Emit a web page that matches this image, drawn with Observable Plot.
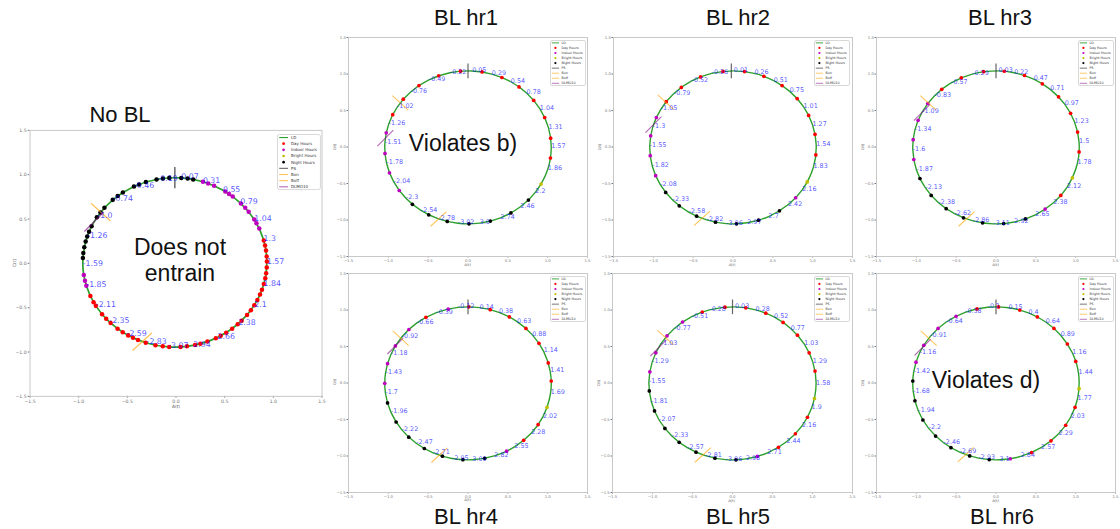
<!DOCTYPE html>
<html><head><meta charset="utf-8">
<script src="https://cdn.jsdelivr.net/npm/d3@7"></script>
<script src="https://cdn.jsdelivr.net/npm/@observablehq/plot@0.6"></script>
<style>
body{margin:0;background:#fff;}
#fig{position:relative;width:1120px;height:529px;overflow:hidden;background:#fff;font-family:"Liberation Sans",Arial,sans-serif;}
.ttl{position:absolute;font-size:22px;color:#111;transform:translate(-50%,-50%);white-space:nowrap;}
.ann{position:absolute;font-size:23px;color:#111;transform:translate(-50%,-50%);white-space:nowrap;text-align:center;line-height:26px;}
.axl{position:absolute;font-family:"DejaVu Sans",sans-serif;color:#555;transform:translate(-50%,-50%);white-space:nowrap;}
</style></head>
<body><div id="fig"></div>
<script>
// ---------- data ----------
const panelNames = ["No BL","BL hr1","BL hr2","BL hr3","BL hr4","BL hr5","BL hr6"];
const tickVals = [-1.5,-1.0,-0.5,0.0,0.5,1.0,1.5];

// phase markers per panel (radians, atan2 of A,C)
const psPhase   = [0.0, 0.0, -0.02, 0.0, 0.0, 0.0, 0.0];
const bonPhase  = [-0.935, -0.95, -0.94, -0.95, -0.94, -0.93, -0.94];
const boffPhase = [-2.78, -2.78, -2.76, -2.78, -2.79, -2.78, -2.77];
const dlmoPhase = [-1.07, -1.45, -1.27, -1.10, -1.06, -1.09, -1.08];

// No BL: hourly phase labels and light-schedule dots (multiple days overlaid)
const noBLLabels = [0.07,0.31,0.55,0.79,1.04,1.3,1.57,1.84,2.1,2.38,2.66,2.94,-3.07,-2.83,-2.59,-2.35,-2.11,-1.85,-1.59,-1.26,-1.0,-0.74,-0.46,-0.19];
const noBLNight  = [0.2,0.14,0.07,-0.06,-0.13,-0.2,-0.32,-0.4,-0.46,-0.6,-0.67,-0.74,-0.87,-0.94,-1.01,-1.13,-1.2,-1.26,-1.32,-1.39,-1.46,-1.52];
const noBLIndoor = [0.31,0.37,0.44,0.58,0.63,0.68,0.8,0.87,0.93,1.04,1.09,1.16,-1.72,-1.79,-1.85];
const noBLDay    = [1.31,1.37,1.43,1.5,1.56,1.63,1.7,1.76,1.83,1.9,1.96,2.03,2.1,2.17,2.24,2.33,2.39,2.47,2.55,2.62,2.68,2.78,2.86,2.92,3.01,3.08,-3.08,-3.01,-2.93,-2.82,-2.73,-2.67,-2.61,-2.54,-2.47,-2.37,-2.3,-2.23,-2.11,-2.06,-1.98];

// BL panels: hourly phase labels, dot phases and hour categories (D day, I indoor, B bright, N night)
const hr1Labels = [0.05,0.29,0.54,0.78,1.04,1.31,1.57,1.86,2.2,2.46,2.74,3.0,-3.02,-2.78,-2.54,-2.3,-2.04,-1.78,-1.51,-1.26,-1.02,-0.76,-0.49,-0.22];
const hr1Dots   = [0.17,0.42,0.66,0.91,1.17,1.45,1.71,2.07,2.33,2.6,2.87,3.13,-2.89,-2.65,-2.41,-2.17,-1.91,-1.65,-1.38,-1.13,-0.89,-0.63,-0.36,-0.09];
const hr1Cats   = ["D","D","D","D","D","D","D","B","N","N","N","N","N","N","N","I","I","I","I","D","D","D","D","D"];

const hr2Labels = [0.01,0.26,0.51,0.75,1.01,1.27,1.54,1.83,2.16,2.42,2.7,2.97,-3.06,-2.82,-2.58,-2.33,-2.08,-1.82,-1.55,-1.3,-1.05,-0.79,-0.52,-0.26];
const hr2Dots   = [0.14,0.38,0.63,0.88,1.14,1.4,1.67,2.04,2.29,2.55,2.83,3.1,-2.93,-2.69,-2.44,-2.2,-1.95,-1.68,-1.42,-1.17,-0.93,-0.67,-0.4,-0.12];
const hr2Cats   = ["D","D","D","D","D","D","D","B","I","N","N","N","N","N","N","N","I","I","I","I","D","D","D","D"];

const hr3Labels = [0.03,0.22,0.47,0.71,0.97,1.23,1.5,1.78,2.12,2.38,2.65,2.92,-3.11,-2.86,-2.62,-2.38,-2.13,-1.87,-1.6,-1.34,-1.09,-0.83,-0.57,-0.29];
const hr3Dots   = [0.1,0.35,0.59,0.85,1.11,1.37,1.63,1.98,2.25,2.51,2.78,3.05,-2.98,-2.74,-2.5,-2.25,-1.99,-1.73,-1.47,-1.21,-0.96,-0.71,-0.43,-0.15];
const hr3Cats   = ["D","D","D","D","D","D","D","B","D","I","N","N","N","N","N","N","N","I","I","I","I","D","D","D"];

const hr4Labels = [0.14,0.38,0.63,0.88,1.14,1.41,1.69,2.02,2.28,2.55,2.82,3.09,-2.95,-2.71,-2.47,-2.22,-1.96,-1.7,-1.43,-1.18,-0.92,-0.66,-0.39,-0.12];
const hr4Dots   = [0.27,0.52,0.77,1.02,1.3,1.54,1.89,2.14,2.41,2.66,2.94,-3.08,-2.83,-2.59,-2.35,-2.1,-1.83,-1.57,-1.31,-1.06,-0.79,-0.53,-0.24,0.01];
const hr4Cats   = ["D","D","D","D","D","D","B","D","D","I","N","N","N","N","N","N","N","I","I","I","I","D","I","D"];

const hr5Labels = [0.03,0.28,0.52,0.77,1.03,1.29,1.58,1.9,2.16,2.44,2.71,2.98,-3.06,-2.81,-2.57,-2.33,-2.07,-1.81,-1.55,-1.29,-1.03,-0.77,-0.51,-0.28];
const hr5Dots   = [0.16,0.41,0.65,0.89,1.16,1.41,1.77,2.03,2.29,2.56,2.84,3.1,-2.93,-2.69,-2.45,-2.2,-1.94,-1.67,-1.42,-1.16,-0.9,-0.64,-0.37,-0.09];
const hr5Cats   = ["D","D","D","D","D","D","B","D","D","D","I","N","N","N","N","N","N","N","I","I","I","I","D","D"];

const hr6Labels = [0.15,0.4,0.64,0.89,1.16,1.44,1.77,2.03,2.29,2.57,2.84,3.1,-2.93,-2.69,-2.46,-2.2,-1.94,-1.68,-1.42,-1.16,-0.91,-0.64,-0.38,-0.1];
const hr6Dots   = [0.29,0.52,0.77,1.03,1.28,1.64,1.89,2.15,2.42,2.7,2.97,-3.06,-2.82,-2.57,-2.33,-2.07,-1.8,-1.54,-1.29,-1.05,-0.77,-0.5,-0.23,0.03];
const hr6Cats   = ["D","D","D","D","D","B","D","D","D","D","I","N","N","N","N","N","N","N","I","I","I","I","D","D"];

const legendItems = ["LD","Day Hours","Indoor Hours","Bright Hours","Night Hours","PS","Bon","Boff","DLMO10"];

// ---------- styling ----------
const catColor = {D:"#ff0000", I:"#bf00bf", B:"#bfbf00", N:"#000000"};
const LDcolor = "#2ca02c";
const phaseText = v => Number.isInteger(v) ? v.toFixed(1) : String(v);

const fig = document.getElementById("fig");

function addDiv(cls, text, x, y, extra) {
  const d = document.createElement("div");
  d.className = cls; d.innerHTML = text;
  d.style.left = x + "px"; d.style.top = y + "px";
  if (extra) Object.assign(d.style, extra);
  fig.appendChild(d);
  return d;
}

function drawPanel(idx, labels, dots, geo, box) {
  const {cx, cy, rx, ry} = geo;
  const {fl, ft, fw, fh, s} = box;
  const P = (ph) => ({x: cx + rx * Math.sin(ph), y: cy + ry * Math.cos(ph)});
  const labelData = labels.map(ph => ({...P(ph), t: phaseText(ph)}));
  const dotData = dots.map(d => ({...P(d.ph), c: catColor[d.c]}));
  const seg = (ph, dx, dy) => { const p = P(ph); return {x1: p.x - dx, y1: p.y - dy, x2: p.x + dx, y2: p.y + dy}; };
  const psLen = idx === 0 ? 0.12 : 0.1;
  const ps = [seg(psPhase[idx], 0, psLen)];
  const bon = [seg(bonPhase[idx], 0.1, -0.1)];
  const boff = [seg(boffPhase[idx], 0.1, 0.1)];
  const dlmo = [seg(dlmoPhase[idx], 0.1, 0.11)];

  const mL = 16 * s, mR = 4 * s, mT = 4 * s, mB = 12 * s;
  const fmt = d3.format(".1f");
  const svg = Plot.plot({
    width: fw + mL + mR, height: fh + mT + mB,
    marginLeft: mL, marginRight: mR, marginTop: mT, marginBottom: mB,
    style: {fontFamily: "DejaVu Sans, sans-serif", fontSize: (3.8 * s) + "px", color: "#777", background: "transparent", overflow: "visible"},
    x: {domain: [-1.5, 1.5], ticks: tickVals, tickFormat: fmt, tickSize: 1.5 * s, tickPadding: 1.2 * s, label: null},
    y: {domain: [-1.5, 1.5], ticks: tickVals, tickFormat: fmt, tickSize: 1.5 * s, tickPadding: 1.2 * s, label: null},
    marks: [
      Plot.frame({stroke: "#c8c8c8", strokeWidth: 1}),
      Plot.line(labelData, {x: "x", y: "y", curve: "catmull-rom-closed", stroke: LDcolor, strokeWidth: 1.4 * s}),
      Plot.dot(dotData, {x: "x", y: "y", r: 1.85 * s, fill: "c", stroke: null}),
      Plot.link(ps, {x1: "x1", y1: "y1", x2: "x2", y2: "y2", stroke: "#333", strokeOpacity: 0.75, strokeWidth: 1.2 * s}),
      Plot.link(bon, {x1: "x1", y1: "y1", x2: "x2", y2: "y2", stroke: "orange", strokeOpacity: 0.65, strokeWidth: 1.1 * s}),
      Plot.link(boff, {x1: "x1", y1: "y1", x2: "x2", y2: "y2", stroke: "orange", strokeOpacity: 0.65, strokeWidth: 1.1 * s}),
      Plot.link(dlmo, {x1: "x1", y1: "y1", x2: "x2", y2: "y2", stroke: "purple", strokeOpacity: 0.6, strokeWidth: 1.1 * s}),
      Plot.text(labelData, {x: "x", y: "y", text: "t", textAnchor: "start", lineAnchor: "middle", dy: -1, fill: "blue", fillOpacity: 0.7, fontSize: 6.4 * s, fontFamily: "DejaVu Sans, sans-serif"})
    ]
  });
  svg.style.position = "absolute";
  svg.style.left = (fl - mL) + "px";
  svg.style.top = (ft - mT) + "px";
  fig.appendChild(svg);

  // axis labels
  addDiv("axl", "A(t)", fl + fw / 2, ft + fh + 8.5 * s, {fontSize: (3.6 * s) + "px"});
  addDiv("axl", "C(t)", fl - 13 * s, ft + fh / 2, {fontSize: (3.6 * s) + "px", transform: "translate(-50%,-50%) rotate(-90deg)"});

  // legend box (upper right)
  const lw = 36 * s, lh = 46 * s;
  const lg = d3.create("svg").attr("width", lw).attr("height", lh)
    .style("position", "absolute").style("left", (fl + fw - 1.2 * s - lw) + "px").style("top", (ft + 3 * s) + "px");
  lg.append("rect").attr("x", 0.5).attr("y", 0.5).attr("width", lw - 1).attr("height", lh - 1).attr("rx", 1.5 * s)
    .attr("fill", "white").attr("fill-opacity", 0.85).attr("stroke", "#d8d8d8");
  const kinds = [
    {t: "line", c: LDcolor, o: 1}, {t: "dot", c: catColor.D}, {t: "dot", c: catColor.I}, {t: "dot", c: catColor.B}, {t: "dot", c: catColor.N},
    {t: "line", c: "#333", o: 0.75}, {t: "line", c: "orange", o: 0.65}, {t: "line", c: "orange", o: 0.65}, {t: "line", c: "purple", o: 0.6}
  ];
  legendItems.forEach((name, i) => {
    const yy = (2.9 + i * 5.05) * s;
    const k = kinds[i];
    if (k.t === "line") lg.append("line").attr("x1", 1.8 * s).attr("x2", 9 * s).attr("y1", yy).attr("y2", yy).attr("stroke", k.c).attr("stroke-opacity", k.o).attr("stroke-width", 0.9 * s);
    else lg.append("circle").attr("cx", 5.4 * s).attr("cy", yy).attr("r", 1.1 * s).attr("fill", k.c);
    lg.append("text").attr("x", 11.5 * s).attr("y", yy).attr("dy", "0.35em").attr("font-size", 3.3 * s).attr("font-family", "DejaVu Sans, sans-serif").attr("fill", "#333").text(name);
  });
  fig.appendChild(lg.node());
}

const zip = (ph, cats) => ph.map((p, i) => ({ph: p, c: cats[i]}));
const noBLDots = [...noBLNight.map(p => ({ph: p, c: "N"})), ...noBLIndoor.map(p => ({ph: p, c: "I"})), ...noBLDay.map(p => ({ph: p, c: "D"}))];

const geoNo = {cx: -0.012, cy: 0.011, rx: 0.946, ry: 0.955};
const geoBL = {cx: 0.0, cy: -0.005, rx: 1.045, ry: 1.048};

drawPanel(0, noBLLabels, noBLDots, geoNo, {fl: 30, ft: 130, fw: 292, fh: 266, s: 1.22});
drawPanel(1, hr1Labels, zip(hr1Dots, hr1Cats), geoBL, {fl: 348, ft: 37, fw: 239, fh: 219, s: 1});
drawPanel(2, hr2Labels, zip(hr2Dots, hr2Cats), geoBL, {fl: 612.5, ft: 37, fw: 239, fh: 219, s: 1});
drawPanel(3, hr3Labels, zip(hr3Dots, hr3Cats), geoBL, {fl: 876, ft: 37, fw: 239, fh: 219, s: 1});
drawPanel(4, hr4Labels, zip(hr4Dots, hr4Cats), geoBL, {fl: 348, ft: 272.5, fw: 239, fh: 219, s: 1});
drawPanel(5, hr5Labels, zip(hr5Dots, hr5Cats), geoBL, {fl: 611.5, ft: 273, fw: 240, fh: 219, s: 1});
drawPanel(6, hr6Labels, zip(hr6Dots, hr6Cats), geoBL, {fl: 876, ft: 273, fw: 239, fh: 219, s: 1});

// titles
addDiv("ttl", panelNames[0], 120, 115);
addDiv("ttl", panelNames[1], 466, 18);
addDiv("ttl", panelNames[2], 738, 18);
addDiv("ttl", panelNames[3], 1000, 18);
addDiv("ttl", panelNames[4], 466, 517);
addDiv("ttl", panelNames[5], 738, 517);
addDiv("ttl", panelNames[6], 1002, 517);

// annotations
addDiv("ann", "Does not<br>entrain", 180, 260);
addDiv("ann", "Violates b)", 463, 143);
addDiv("ann", "Violates d)", 986, 380);
</script>
</body></html>
